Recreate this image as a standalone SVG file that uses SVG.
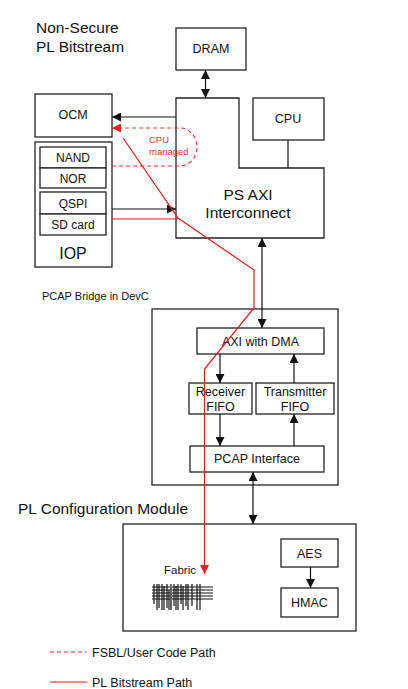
<svg xmlns="http://www.w3.org/2000/svg" width="408" height="689" viewBox="0 0 408 689">
<defs>
<style>
.box{fill:#fff;stroke:#222;stroke-width:1.3}
.t{font-family:"Liberation Sans",Arial,sans-serif;fill:#111;text-anchor:middle}
.tl{font-family:"Liberation Sans",Arial,sans-serif;fill:#111}
.c{fill:none;stroke:#111;stroke-width:1.2}
.red{fill:none;stroke:#f01818;stroke-width:1.2}
.dash{fill:none;stroke:#f03030;stroke-width:1.1;stroke-dasharray:4,3}
.fab{stroke:#111;stroke-width:1.2}
</style>
<marker id="ab" viewBox="0 0 10 10" refX="10" refY="5" markerUnits="userSpaceOnUse" markerWidth="9" markerHeight="9" orient="auto-start-reverse"><path d="M0,0 L10,5 L0,10 z" fill="#111"/></marker>
<marker id="ar" viewBox="0 0 10 10" refX="10" refY="5" markerUnits="userSpaceOnUse" markerWidth="11" markerHeight="9" orient="auto-start-reverse"><path d="M0,0 L10,5 L0,10 z" fill="#f02020"/></marker>
</defs>
<rect width="408" height="689" fill="#fff"/>

<text class="tl" x="36" y="33" font-size="15.5">Non-Secure</text>
<text class="tl" x="36" y="52" font-size="15.5">PL Bitstream</text>

<g id="dram"><rect class="box" x="176" y="28" width="70" height="42"/><text class="t" x="211" y="53" font-size="12.5">DRAM</text></g>
<g id="ps-axi"><path class="box" d="M176,98 L239,98 L239,168 L324,168 L324,238 L176,238 Z"/><text class="t" x="248" y="200" font-size="15.5">PS AXI</text><text class="t" x="248" y="218" font-size="15.5">Interconnect</text></g>
<g id="cpu"><rect class="box" x="253" y="98" width="71" height="42"/><text class="t" x="288" y="123" font-size="12.5">CPU</text></g>
<g id="ocm"><rect class="box" x="35" y="94" width="77" height="43"/><text class="t" x="73" y="119" font-size="12.5">OCM</text></g>
<g id="iop"><rect class="box" x="35" y="142" width="77" height="125"/>
<rect class="box" x="40" y="147" width="66" height="21"/><text class="t" x="73" y="162" font-size="12">NAND</text>
<rect class="box" x="40" y="168" width="66" height="20"/><text class="t" x="73" y="182.5" font-size="12">NOR</text>
<rect class="box" x="40" y="192" width="66" height="22"/><text class="t" x="73" y="207.5" font-size="12">QSPI</text>
<rect class="box" x="40" y="214" width="66" height="21"/><text class="t" x="73" y="229" font-size="12">SD card</text>
<text class="t" x="73" y="259" font-size="16">IOP</text></g>

<text class="tl" x="42" y="300" font-size="11">PCAP Bridge in DevC</text>
<g id="pcap-bridge"><rect class="box" x="152" y="309" width="186" height="176"/></g>
<g id="axi-dma"><rect class="box" x="197" y="328" width="127" height="26"/><text class="t" x="260.5" y="345.5" font-size="12.5">AXI with DMA</text></g>
<g id="rx-fifo"><rect class="box" x="189" y="383" width="63" height="31"/><text class="t" x="220.5" y="395.5" font-size="12.5">Receiver</text><text class="t" x="220.5" y="410.5" font-size="12.5">FIFO</text></g>
<g id="tx-fifo"><rect class="box" x="256" y="383" width="78" height="31"/><text class="t" x="295" y="395.5" font-size="12.5">Transmitter</text><text class="t" x="295" y="410.5" font-size="12.5">FIFO</text></g>
<g id="pcap-if"><rect class="box" x="190" y="446" width="134" height="26"/><text class="t" x="257" y="463" font-size="12.5">PCAP Interface</text></g>

<text class="tl" x="18" y="514" font-size="15.5">PL Configuration Module</text>
<g id="pl-config"><rect class="box" x="123" y="524" width="233" height="107"/></g>
<g id="aes"><rect class="box" x="281" y="539" width="57" height="28"/><text class="t" x="309.5" y="557.5" font-size="12.5">AES</text></g>
<g id="hmac"><rect class="box" x="281" y="588" width="57" height="29"/><text class="t" x="309.5" y="607" font-size="12.5">HMAC</text></g>
<g id="fabric"><text class="t" x="180" y="574" font-size="11.5">Fabric</text>
<g class="fab">
<line x1="152" y1="587" x2="213" y2="587"/><line x1="152" y1="590" x2="213" y2="590"/><line x1="152" y1="593" x2="213" y2="593"/><line x1="152" y1="596" x2="213" y2="596"/><line x1="152" y1="599" x2="213" y2="599"/>
<line x1="154" y1="584" x2="154" y2="604"/><line x1="157" y1="584" x2="157" y2="610"/><line x1="159" y1="584" x2="159" y2="608"/><line x1="162" y1="584" x2="162" y2="610"/><line x1="164" y1="586" x2="164" y2="610"/><line x1="167" y1="584" x2="167" y2="608"/><line x1="169" y1="590" x2="169" y2="610"/><line x1="171" y1="584" x2="171" y2="610" stroke="#666" stroke-width="2"/><line x1="174" y1="584" x2="174" y2="606"/><line x1="176" y1="586" x2="176" y2="610"/><line x1="178" y1="584" x2="178" y2="610"/><line x1="181" y1="584" x2="181" y2="604"/><line x1="183" y1="586" x2="183" y2="610"/><line x1="186" y1="584" x2="186" y2="606"/><line x1="188" y1="584" x2="188" y2="610"/><line x1="192" y1="584" x2="192" y2="606"/><line x1="197" y1="584" x2="197" y2="610"/><line x1="200" y1="584" x2="200" y2="610"/>
</g></g>

<g id="connectors">
<line class="c" x1="205.5" y1="70" x2="205.5" y2="98" marker-start="url(#ab)" marker-end="url(#ab)"/>
<line class="c" x1="288" y1="140" x2="288" y2="168"/>
<line class="c" x1="176" y1="117" x2="112" y2="117" marker-end="url(#ab)"/>
<line class="c" x1="112" y1="209" x2="176" y2="209" marker-end="url(#ab)"/>
<line class="c" x1="262" y1="238" x2="262" y2="328" marker-start="url(#ab)" marker-end="url(#ab)"/>
<line class="c" x1="220" y1="354" x2="220" y2="383" marker-end="url(#ab)"/>
<line class="c" x1="220" y1="414" x2="220" y2="446" marker-end="url(#ab)"/>
<line class="c" x1="294" y1="383" x2="294" y2="354" marker-end="url(#ab)"/>
<line class="c" x1="294" y1="446" x2="294" y2="414" marker-end="url(#ab)"/>
<line class="c" x1="253" y1="472" x2="253" y2="524" marker-start="url(#ab)" marker-end="url(#ab)"/>
<line class="c" x1="310.5" y1="567" x2="310.5" y2="588" marker-end="url(#ab)"/>
<path class="dash" d="M112,166 L180,166 A17,19 0 0 0 180,128 L112,128" marker-end="url(#ar)"/>
<line class="red" x1="112" y1="219" x2="178" y2="219"/>
<path class="red" d="M123,138 L178,218 L254,270 L254,308 L204.5,369 L204.5,574" marker-end="url(#ar)"/>
</g>
<text x="149" y="143" font-size="9.5" fill="#f03030" font-family="Liberation Sans,Arial,sans-serif">CPU</text>
<text x="149" y="154.5" font-size="9.5" fill="#f03030" font-family="Liberation Sans,Arial,sans-serif">managed</text>

<g id="legend">
<line class="dash" x1="50" y1="652" x2="87" y2="652"/>
<text class="tl" x="92" y="656.5" font-size="12.5">FSBL/User Code Path</text>
<line class="red" x1="50" y1="682" x2="87" y2="682"/>
<text class="tl" x="92" y="686.5" font-size="12.5">PL Bitstream Path</text>
</g>
</svg>
